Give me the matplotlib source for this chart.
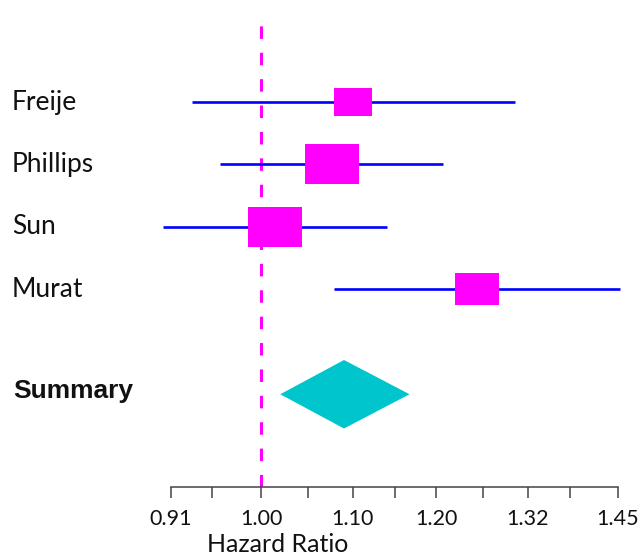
import numpy as np
import matplotlib
matplotlib.use('Agg')
import matplotlib.pyplot as plt
from matplotlib.path import Path
from matplotlib.patches import Polygon
from matplotlib.transforms import blended_transform_factory

# Study data (hazard ratios with confidence limits)
studies = ['Freije', 'Phillips', 'Sun', 'Murat']
hr = [1.100, 1.076, 1.014, 1.252]
lower = [0.930, 0.958, 0.903, 1.079]
upper = [1.303, 1.209, 1.140, 1.453]
box_width = [27.4, 39.4, 39.3, 31.2]   # box size ~ study weight

summary_label = 'Summary'
summary_hr = 1.090
summary_lower = 1.020
summary_upper = 1.167

ticks = [0.91, 1.00, 1.10, 1.20, 1.32, 1.45]
tick_labels = ['0.91', '1.00', '1.10', '1.20', '1.32', '1.45']
minor_ticks = [0.95, 1.05, 1.15, 1.26, 1.38]

plt.rcParams['lines.scale_dashes'] = False
label_font = ['Lato', 'DejaVu Sans']

fig = plt.figure(figsize=(6.42, 5.58), dpi=100)
ax = fig.add_axes([0.2659, 0.1272, 0.9626 - 0.2659, 0.973 - 0.1272])

rows = [4, 3, 2, 1]
summary_row = -0.69

# reference line at HR = 1
ax.axvline(1.0, color='#FF00FF', linewidth=2.2, dashes=(9, 10), zorder=1)

# rectangle marker, wider than tall
aspect = 1.35
box = Path([(-aspect, -1), (aspect, -1), (aspect, 1), (-aspect, 1), (-aspect, -1)],
           [Path.MOVETO, Path.LINETO, Path.LINETO, Path.LINETO, Path.CLOSEPOLY])

for y, h, lo, hi, w in zip(rows, hr, lower, upper, box_width):
    ax.plot([lo, hi], [y, y], color='#0000FF', linewidth=1.9, solid_capstyle='butt',
            zorder=2, clip_on=False)
    ax.plot([h], [y], marker=box, markersize=w, color='#FF00FF',
            markeredgewidth=0, zorder=3)

# summary diamond
dh = 0.55
diamond = Polygon([(summary_lower, summary_row), (summary_hr, summary_row + dh),
                   (summary_upper, summary_row), (summary_hr, summary_row - dh)],
                  closed=True, facecolor='#00C5CD', edgecolor='none', zorder=3)
ax.add_patch(diamond)

ax.set_xscale('log')
ax.set_xlim(0.91, 1.45)
ax.set_ylim(-2.18, 5.40)
ax.set_xticks(ticks)
ax.set_xticklabels(tick_labels, fontsize=15.5, family=label_font, color='#111111')
ax.set_xticks(minor_ticks, minor=True)
ax.xaxis.set_minor_formatter(matplotlib.ticker.NullFormatter())
ax.tick_params(axis='x', which='both', direction='out', length=8, width=1.1,
               color='#444444', pad=8)
ax.set_yticks([])
for side in ['top', 'right', 'left']:
    ax.spines[side].set_visible(False)
ax.spines['bottom'].set_color('#444444')
ax.spines['bottom'].set_linewidth(1.1)

# row labels at the left edge of the figure
trans = blended_transform_factory(fig.transFigure, ax.transData)
for y, name in zip(rows, studies):
    ax.text(12 / 642, y, name, transform=trans, ha='left', va='center',
            fontsize=19, family=label_font, color='#111111')
ax.text(13 / 642, summary_row + 0.06, summary_label, transform=trans, ha='left',
        va='center', fontsize=19, fontweight='bold',
        family=['Liberation Sans', 'DejaVu Sans'], color='#111111')

fig.text(278 / 642, 1 - 552 / 558, 'Hazard Ratio', ha='center', va='baseline',
         fontsize=18, family=label_font, color='#111111')

fig.savefig('out.png', dpi=100)
